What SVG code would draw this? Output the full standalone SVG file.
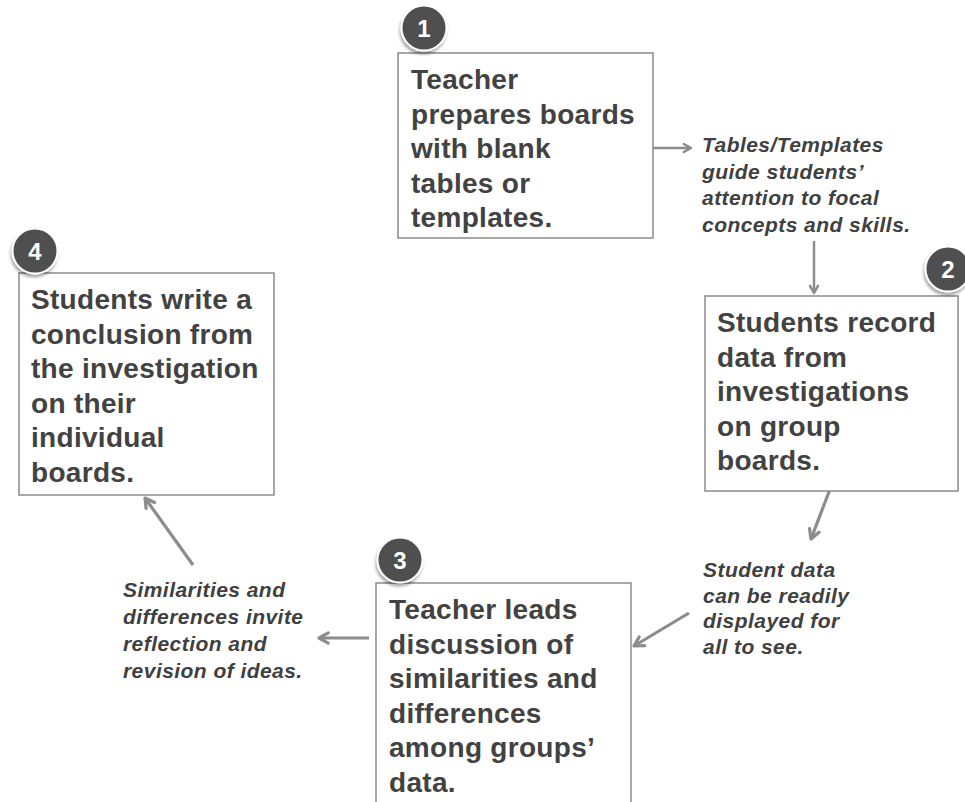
<svg xmlns="http://www.w3.org/2000/svg" width="965" height="802" viewBox="0 0 965 802">
  <style>
    .box { fill: #ffffff; stroke: #8a8a8a; stroke-width: 1.5; }
    .step { font-family: "Liberation Sans", Arial, sans-serif; font-weight: bold; font-size: 28px; letter-spacing: 0.3px; fill: #424242; }
    .note { font-family: "Liberation Sans", Arial, sans-serif; font-weight: bold; font-style: italic; font-size: 21px; letter-spacing: 0.45px; fill: #404040; }
    .badge circle { fill: #505050; stroke: #ffffff; stroke-width: 2; filter: url(#shadow); }
    .badge text { font-family: "Liberation Sans", Arial, sans-serif; font-weight: bold; font-size: 24px; fill: #ffffff; text-anchor: middle; }
    .link { fill: none; stroke: #8c8c8c; stroke-width: 2.5; marker-end: url(#head); }
    .link.thick { stroke-width: 3.2; }
  </style>
  <defs>
    <marker id="head" viewBox="0 0 12 12" refX="10" refY="6" markerWidth="4.6" markerHeight="4.6" orient="auto" markerUnits="strokeWidth">
      <path d="M2.5,1.8 L10,6 L2.5,10.2" fill="none" stroke="#8c8c8c" stroke-width="2.6" stroke-linecap="round" stroke-linejoin="round"/>
    </marker>
    <filter id="shadow" x="-40%" y="-40%" width="180%" height="190%">
      <feDropShadow dx="-1" dy="3" stdDeviation="1.5" flood-color="#000000" flood-opacity="0.35"/>
    </filter>
  </defs>

  <rect width="965" height="802" fill="#ffffff"/>

  <!-- connectors -->
  <g id="connectors">
    <line class="link" x1="653" y1="148" x2="691" y2="148"/>
    <line class="link" x1="814" y1="241" x2="814" y2="293"/>
    <line class="link thick" x1="832" y1="484" x2="811" y2="539"/>
    <line class="link thick" x1="689" y1="613" x2="634" y2="646"/>
    <line class="link thick" x1="369" y1="638" x2="319" y2="638"/>
    <line class="link thick" x1="193" y1="565" x2="145" y2="498"/>
  </g>

  <!-- step 1 -->
  <g id="step1">
    <rect class="box" x="398" y="53" width="255" height="185"/>
    <text class="step">
      <tspan x="411" y="89">Teacher</tspan>
      <tspan x="411" y="123.5">prepares boards</tspan>
      <tspan x="411" y="158">with blank</tspan>
      <tspan x="411" y="192.5">tables or</tspan>
      <tspan x="411" y="227">templates.</tspan>
    </text>
    <g class="badge"><circle cx="424" cy="28" r="22.5"/><text x="424" y="37">1</text></g>
  </g>

  <!-- note after step 1 -->
  <g id="note1">
    <text class="note">
      <tspan x="702" y="152">Tables/Templates</tspan>
      <tspan x="702" y="178.5">guide students’</tspan>
      <tspan x="702" y="205">attention to focal</tspan>
      <tspan x="702" y="231.5">concepts and skills.</tspan>
    </text>
  </g>

  <!-- step 2 -->
  <g id="step2">
    <rect class="box" x="705" y="296" width="253" height="195"/>
    <text class="step">
      <tspan x="717" y="332">Students record</tspan>
      <tspan x="717" y="366.5">data from</tspan>
      <tspan x="717" y="401">investigations</tspan>
      <tspan x="717" y="435.5">on group</tspan>
      <tspan x="717" y="470">boards.</tspan>
    </text>
    <g class="badge"><circle cx="948" cy="269" r="22.5"/><text x="948" y="278">2</text></g>
  </g>

  <!-- note after step 2 -->
  <g id="note2">
    <text class="note">
      <tspan x="703" y="577">Student data</tspan>
      <tspan x="703" y="602.5">can be readily</tspan>
      <tspan x="703" y="628">displayed for</tspan>
      <tspan x="703" y="653.5">all to see.</tspan>
    </text>
  </g>

  <!-- step 3 -->
  <g id="step3">
    <rect class="box" x="376" y="583" width="255" height="240"/>
    <text class="step">
      <tspan x="389" y="619">Teacher leads</tspan>
      <tspan x="389" y="653.5">discussion of</tspan>
      <tspan x="389" y="688">similarities and</tspan>
      <tspan x="389" y="722.5">differences</tspan>
      <tspan x="389" y="757">among groups’</tspan>
      <tspan x="389" y="791.5">data.</tspan>
    </text>
    <g class="badge"><circle cx="400" cy="560" r="22.5"/><text x="400" y="569">3</text></g>
  </g>

  <!-- note after step 3 -->
  <g id="note3">
    <text class="note">
      <tspan x="123" y="597">Similarities and</tspan>
      <tspan x="123" y="624">differences invite</tspan>
      <tspan x="123" y="651">reflection and</tspan>
      <tspan x="123" y="678">revision of ideas.</tspan>
    </text>
  </g>

  <!-- step 4 -->
  <g id="step4">
    <rect class="box" x="19" y="273" width="255" height="222"/>
    <text class="step">
      <tspan x="31" y="309">Students write a</tspan>
      <tspan x="31" y="343.5">conclusion from</tspan>
      <tspan x="31" y="378">the investigation</tspan>
      <tspan x="31" y="412.5">on their</tspan>
      <tspan x="31" y="447">individual</tspan>
      <tspan x="31" y="481.5">boards.</tspan>
    </text>
    <g class="badge"><circle cx="35" cy="251" r="22.5"/><text x="35" y="260">4</text></g>
  </g>
</svg>
